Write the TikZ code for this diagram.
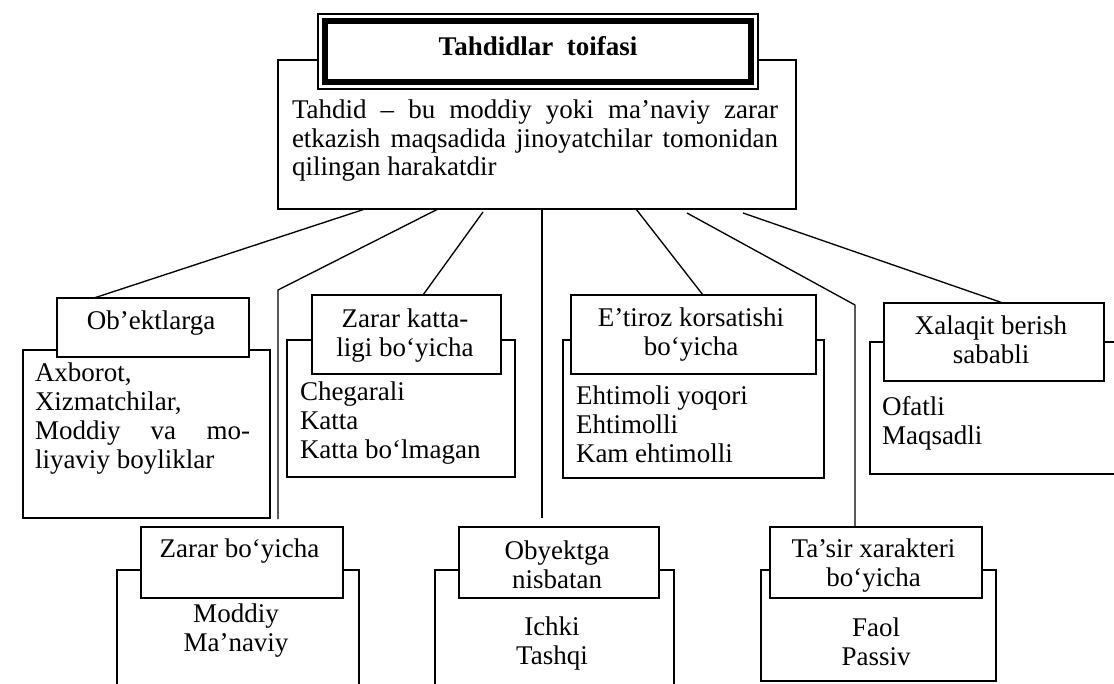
\documentclass[tikz,border=0pt]{standalone}
\usepackage{fontspec}
\setmainfont{Liberation Serif}
\usetikzlibrary{calc}
\newdimen\upx \upx=0.75pt
\begin{document}
\begin{tikzpicture}[x=0.75pt,y=-0.75pt,line width=1pt,
  every node/.style={font=\fontsize{20.25}{21.75}\selectfont,inner sep=0pt,outer sep=0pt},
  boxnode/.style={draw,fill=white,anchor=north west,inner sep=0pt,outer sep=0pt},
  txt/.style={align=left,anchor=north west},
  ctxt/.style={align=center,anchor=north},
  link/.style={line width=1pt}]
\useasboundingbox (0,0) rectangle (1114,683);
\clip (0,0) rectangle (1114,683);

% definition box and title
\node[boxnode,minimum width=518\upx,minimum height=149\upx] (def) at (278,60) {};
\node[boxnode,minimum width=440\upx,minimum height=75\upx,line width=0.8pt] (title) at (318,14) {};
\node[draw,line width=4.5pt,anchor=north west,minimum width=426\upx,minimum height=61\upx] (titleband) at (325,21) {};
\node[font=\bfseries\fontsize{20.25}{21.75}\selectfont] (ttl) at (538,46.5) {Tahdidlar\ \ toifasi};
\node[txt,font=\fontsize{20.25}{21.4}\selectfont] (deftext) at (292,100)
  {\makebox[486\upx][s]{Tahdid – bu moddiy yoki ma’naviy zarar}\\
   \makebox[486\upx][s]{etkazish maqsadida jinoyatchilar tomonidan}\\
   qilingan harakatdir};

% content boxes
\node[boxnode,minimum width=247\upx,minimum height=168\upx] (c1) at (23,350) {};
\node[boxnode,minimum width=228\upx,minimum height=137\upx] (c2) at (287,340) {};
\node[boxnode,minimum width=261\upx,minimum height=138\upx] (c3) at (563,340) {};
\node[boxnode,minimum width=260\upx,minimum height=132\upx] (c4) at (870,342) {};
\node[boxnode,minimum width=242\upx,minimum height=130\upx] (c5) at (117,570) {};
\node[boxnode,minimum width=239\upx,minimum height=130\upx] (c6) at (435,570) {};
\node[boxnode,minimum width=235\upx,minimum height=111\upx] (c7) at (761,570) {};

% header boxes
\node[boxnode,minimum width=192\upx,minimum height=59\upx] (h1) at (57,298) {};
\node[boxnode,minimum width=189\upx,minimum height=79\upx] (h2) at (312,295) {};
\node[boxnode,minimum width=245\upx,minimum height=79\upx] (h3) at (571,295) {};
\node[boxnode,minimum width=220\upx,minimum height=78\upx] (h4) at (884,303) {};
\node[boxnode,minimum width=202\upx,minimum height=71\upx] (h5) at (141,527) {};
\node[boxnode,minimum width=200\upx,minimum height=71\upx] (h6) at (459,527) {};
\node[boxnode,minimum width=212\upx,minimum height=71\upx] (h7) at (770,527) {};

% header texts
\node[ctxt] (t1) at (151,311) {Ob’ektlarga};
\node[ctxt] (t2) at (405,309) {Zarar katta-\\ligi bo‘yicha};
\node[ctxt] (t3) at (691,308) {E’tiroz korsatishi\\bo‘yicha};
\node[ctxt] (t4) at (991,316) {Xalaqit berish\\sababli};
\node[ctxt] (t5) at (239.5,539) {Zarar bo‘yicha};
\node[ctxt] (t6) at (557,541) {Obyektga\\nisbatan};
\node[ctxt] (t7) at (873.5,539) {Ta’sir xarakteri\\bo‘yicha};

% content texts
\node[txt] (k1) at (35,363) {Axborot,\\Xizmatchilar,\\\makebox[215\upx][s]{Moddiy va mo-}\\liyaviy boyliklar};
\node[txt] (k2) at (300,382) {Chegarali\\Katta\\Katta bo‘lmagan};
\node[txt] (k3) at (576,386) {Ehtimoli yoqori\\Ehtimolli\\Kam ehtimolli};
\node[txt] (k4) at (882,396) {Ofatli\\Maqsadli};
\node[ctxt] (k5) at (236,604) {Moddiy\\Ma’naviy};
\node[ctxt] (k6) at (552,617) {Ichki\\Tashqi};
\node[ctxt] (k7) at (876,618) {Faol\\Passiv};

% connector points
\coordinate (s1) at ($(def.south west)+(87,0)$);
\coordinate (e1) at ($(h1.north west)+(37,0)$);
\coordinate (s2) at ($(def.south west)+(160,0)$);
\coordinate (b2) at (278,290);
\coordinate (e2) at ($(h5.north west)+(137,-8)$);
\coordinate (s3) at ($(def.south west)+(205,3)$);
\coordinate (e3) at ($(h2.north west)+(111,0)$);
\coordinate (s4) at ($(def.south west)+(264,0)$);
\coordinate (e4) at ($(h6.north west)+(83,-9)$);
\coordinate (s5) at ($(def.south west)+(358,0)$);
\coordinate (e5) at ($(h3.north west)+(132,0)$);
\coordinate (s6) at ($(def.south west)+(409,4)$);
\coordinate (b6) at (855,305);
\coordinate (e6) at ($(h7.north west)+(85,0)$);
\coordinate (s7) at ($(def.south west)+(465,4)$);
\coordinate (e7) at ($(h4.north west)+(119,0)$);

\draw[link] (s1) -- (e1);
\draw[link] (s2) -- (b2) -- (e2);
\draw[link] (s3) -- (e3);
\draw[link] (s4) -- (e4);
\draw[link] (s5) -- (e5);
\draw[link] (s6) -- (b6) -- (e6);
\draw[link] (s7) -- (e7);
\end{tikzpicture}
\end{document}
